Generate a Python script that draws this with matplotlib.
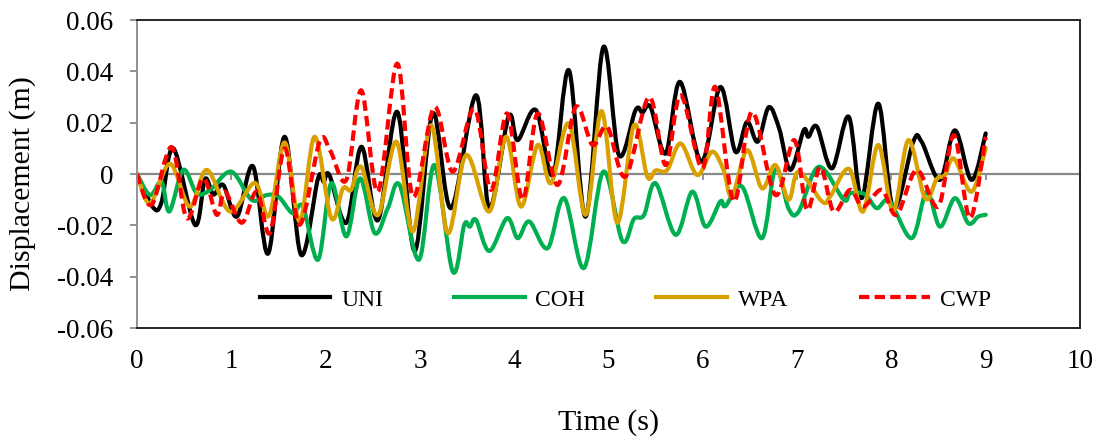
import numpy as np
import matplotlib
matplotlib.use("Agg")
import matplotlib.pyplot as plt
from matplotlib.path import Path
from matplotlib.patches import PathPatch
from matplotlib.lines import Line2D
from matplotlib.ticker import FuncFormatter

plt.rcParams['font.family'] = ['Liberation Serif', 'DejaVu Serif']
plt.rcParams['axes.unicode_minus'] = False

# values (time in s, displacement in m)
uni_t = [0, 0.17, 0.26, 0.385, 0.615, 0.72, 0.81, 0.915, 1.06, 1.23, 1.39, 1.566, 1.74, 1.92,
         1.98, 2.04, 2.22, 2.38, 2.555, 2.76, 2.944, 3.136, 3.33, 3.595, 3.736, 3.94, 4.037,
         4.23, 4.41, 4.58, 4.758, 4.945, 5.11, 5.287, 5.36, 5.447, 5.606, 5.758, 5.984, 6.186,
         6.345, 6.469, 6.582, 6.699, 6.81, 6.928, 7.07, 7.12, 7.211, 7.37, 7.547, 7.685, 7.861,
         8.02, 8.232, 8.32, 8.515, 8.674, 8.85, 9.0]
uni_v = [0, -0.013, -0.011, 0.010, -0.0198, -0.002, -0.008, -0.0043, -0.0166, 0.003, -0.031,
         0.0145, -0.0315, -0.0017, -0.003, -0.0004, -0.019, 0.0106, -0.018, 0.0242, -0.030,
         0.0236, -0.0133, 0.0307, -0.0133, 0.0223, 0.0132, 0.0249, -0.0004, 0.0404, -0.0166,
         0.0494, 0.0074, 0.0249, 0.024, 0.026, 0.008, 0.0359, 0.0048, 0.0339, 0.0087, 0.0203,
         0.0126, 0.026, 0.0177, 0.0016, 0.017, 0.0145, 0.0184, 0.0022, 0.0223, -0.0094, 0.0274,
         -0.0133, 0.0126, 0.0126, -0.0023, 0.017, -0.0023, 0.0158]

coh_t = [0, 0.138, 0.26, 0.343, 0.49, 0.633, 0.775, 1.0, 1.216, 1.375, 1.5, 1.65, 1.76, 1.92,
         2.06, 2.22, 2.365, 2.52, 2.66, 2.785, 2.99, 3.153, 3.348, 3.47, 3.53, 3.595, 3.736,
         3.924, 4.037, 4.16, 4.355, 4.53, 4.74, 4.945, 5.146, 5.27, 5.376, 5.5, 5.712, 5.888,
         6.03, 6.186, 6.24, 6.416, 6.628, 6.77, 6.91, 7.017, 7.229, 7.494, 7.561, 7.72, 7.844,
         7.98, 8.215, 8.374, 8.515, 8.674, 8.815, 8.92, 9.0]
coh_v = [0, -0.0082, -0.003, -0.0146, 0.0016, -0.0075, -0.0062, 0.0009, -0.0101, -0.0082,
         -0.0088, -0.0153, -0.0127, -0.0334, -0.0036, -0.0243, -0.0017, -0.023, -0.0133, -0.0043,
         -0.0334, 0.0035, -0.038, -0.0198, -0.0205, -0.0179, -0.030, -0.0172, -0.025, -0.0185,
         -0.0289, -0.0094, -0.0366, 0.0009, -0.026, -0.0175, -0.016, -0.0036, -0.0237, -0.0069,
         -0.0205, -0.0107, -0.0125, -0.0049, -0.025, 0.0022, -0.0135, -0.0146, 0.0028, -0.010,
         -0.0075, -0.0079, -0.0133, -0.0105, -0.025, -0.0069, -0.0205, -0.0094, -0.0192,
         -0.0166, -0.0159]

wpa_t = [0, 0.138, 0.35, 0.56, 0.74, 0.986, 1.25, 1.4, 1.566, 1.725, 1.884, 2.06, 2.184, 2.27,
         2.378, 2.555, 2.75, 2.926, 3.118, 3.295, 3.49, 3.736, 3.913, 4.072, 4.249, 4.39, 4.58,
         4.758, 4.927, 5.093, 5.27, 5.411, 5.5, 5.623, 5.765, 5.941, 6.098, 6.22, 6.31, 6.469,
         6.628, 6.77, 6.91, 7.017, 7.264, 7.35, 7.55, 7.70, 7.861, 8.02, 8.18, 8.356, 8.48,
         8.568, 8.664, 8.85, 9.0]
wpa_v = [0, -0.0114, 0.004, -0.0127, 0.0016, -0.0146, -0.0035, -0.0163, 0.0123, -0.0185,
         0.0145, -0.0172, -0.0056, -0.0062, 0.0028, -0.016, 0.0126, -0.0224, 0.019, -0.023,
         0.0074, -0.0146, 0.0145, -0.0127, 0.0113, -0.0036, 0.0197, -0.0159, 0.0245, -0.019,
         0.019, -0.001, 0.0014, 0.0016, 0.0119, -0.0004, 0.0087, 0.0016, -0.0088, 0.0093,
         -0.0056, 0.0035, -0.010, 0.0009, -0.0107, -0.0088, 0.002, -0.0146, 0.0113, -0.0146,
         0.0132, -0.0094, -0.002, -0.0004, 0.006, -0.0069, 0.010]

cwp_t = [0, 0.155, 0.367, 0.527, 0.703, 0.845, 0.933, 1.11, 1.27, 1.41, 1.566, 1.725, 1.937,
         2.05, 2.22, 2.378, 2.555, 2.76, 2.926, 3.153, 3.348, 3.577, 3.754, 3.924, 4.09, 4.249,
         4.46, 4.652, 4.83, 4.987, 5.18, 5.43, 5.606, 5.765, 5.995, 6.133, 6.328, 6.522, 6.77,
         6.971, 7.105, 7.246, 7.388, 7.561, 7.70, 7.897, 8.056, 8.268, 8.497, 8.664, 8.833, 9.0]
cwp_v = [0, -0.012, 0.0105, -0.0172, -0.0017, -0.0159, -0.0069, -0.019, -0.0069, -0.023, 0.010,
         -0.0198, 0.0126, 0.009, -0.0023, 0.0326, -0.0069, 0.043, -0.0088, 0.0261, 0.0009,
         0.0255, -0.0062, 0.0236, -0.010, 0.0236, -0.0043, 0.0261, 0.0113, 0.0184, -0.001,
         0.030, 0.0035, 0.0307, 0.0022, 0.0339, -0.0107, 0.0242, -0.0082, 0.0132, -0.014,
         0.0028, -0.0146, -0.0062, -0.0127, -0.0062, -0.0159, 0.0016, -0.0127, 0.0151, -0.0172,
         0.0145]

x_ticks = list(range(0, 11))
y_ticks = [-0.06, -0.04, -0.02, 0, 0.02, 0.04, 0.06]

grey = '#898989'
frame = '#262626'
LW = 3.0
DASH = (0, (2.5, 1.25))


def smooth_path(t, v):
    """Bezier path through the points, like a spreadsheet 'smoothed line'"""
    p = np.column_stack([t, v])
    verts = [p[0]]
    codes = [Path.MOVETO]
    n = len(p)
    for i in range(n - 1):
        p0 = p[i - 1] if i > 0 else p[i]
        p3 = p[i + 2] if i + 2 < n else p[i + 1]
        c1 = p[i] + (p[i + 1] - p0) / 6
        c2 = p[i + 1] - (p3 - p[i]) / 6
        verts += [c1, c2, p[i + 1]]
        codes += [Path.CURVE4] * 3
    return Path(verts, codes)


def draw(ax, t, v, color, ls='-'):
    patch = PathPatch(smooth_path(t, v), fill=False, edgecolor=color, lw=LW,
                      linestyle=ls, joinstyle='round',
                      capstyle='butt' if ls != '-' else 'round')
    ax.add_patch(patch)
    return Line2D([], [], color=color, lw=LW, ls=ls)


fig = plt.figure(figsize=(10.99, 4.37), dpi=100)
ax = fig.add_axes([137 / 1099, 1 - 328 / 437, 943 / 1099, 308 / 437])

handles = [
    draw(ax, uni_t, uni_v, 'black'),
    draw(ax, coh_t, coh_v, '#00B050'),
    draw(ax, wpa_t, wpa_v, '#D9A100'),
    draw(ax, cwp_t, cwp_v, '#FF0000', DASH),
]
labels = ['UNI', 'COH', 'WPA', 'CWP']

ax.set_xlim(0, 10)
ax.set_ylim(-0.06, 0.06)
ax.set_xticks(x_ticks)
ax.set_yticks(y_ticks)
ax.yaxis.set_major_formatter(FuncFormatter(lambda v, p: '0' if abs(v) < 1e-9 else f'{v:.2f}'))

for s in ['top', 'right', 'bottom']:
    ax.spines[s].set_color(frame)
    ax.spines[s].set_linewidth(1.4)
ax.spines['left'].set_color(grey)
ax.spines['left'].set_linewidth(1.3)

ax.tick_params(axis='x', length=0, pad=15, labelsize=19.5)
ax.tick_params(axis='y', direction='out', length=5, width=1.3, color=grey, pad=12, labelsize=19.5)

# horizontal axis drawn at zero
zero_ax = ax.secondary_xaxis(0, transform=ax.transData)
zero_ax.set_xticks(x_ticks)
zero_ax.spines['bottom'].set_color(grey)
zero_ax.spines['bottom'].set_linewidth(1.6)
zero_ax.tick_params(axis='x', direction='out', length=4, width=1.3, color=grey, labelbottom=False)

ax.set_xlabel('Time (s)', fontsize=21.5)
ax.xaxis.set_label_coords(0.5, -0.262)
ax.set_ylabel('Displacement (m)', fontsize=21.5)
ax.yaxis.set_label_coords(-0.107, 0.47)

ax.legend(handles, labels, loc='center', bbox_to_anchor=(0.518, 0.091), ncol=4, frameon=False,
          fontsize=17, handlelength=3.0, handletextpad=0.45, columnspacing=3.0)

fig.savefig('out.png', dpi=100)
